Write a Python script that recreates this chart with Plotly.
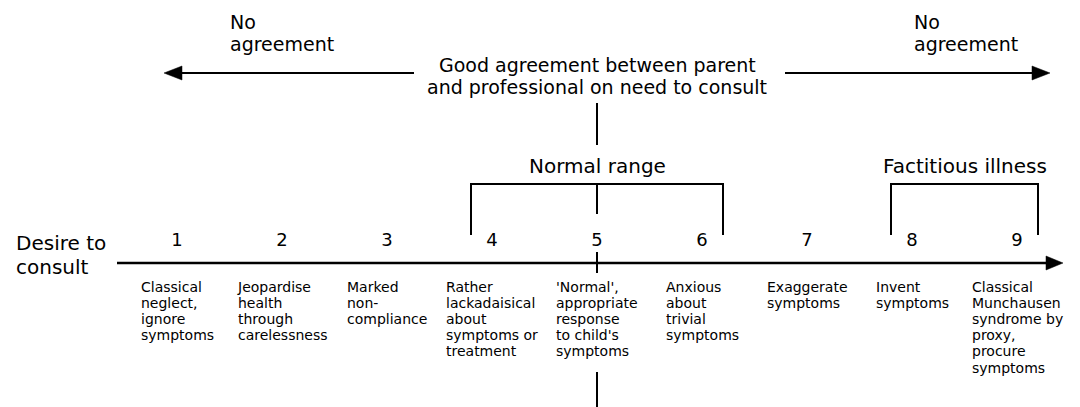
import plotly.graph_objects as go

# ---------------- data ----------------
scale_points = [1, 2, 3, 4, 5, 6, 7, 8, 9]
behaviours = [
    ["Classical", "neglect,", "ignore", "symptoms"],
    ["Jeopardise", "health", "through", "carelessness"],
    ["Marked", "non-", "compliance"],
    ["Rather", "lackadaisical", "about", "symptoms or", "treatment"],
    ["'Normal',", "appropriate", "response", "to child's", "symptoms"],
    ["Anxious", "about", "trivial", "symptoms"],
    ["Exaggerate", "symptoms"],
    ["Invent", "symptoms"],
    ["Classical", "Munchausen", "syndrome by", "proxy,", "procure", "symptoms"],
]
range_names = ["Normal range", "Factitious illness"]
range_starts = [4, 8]
range_ends = [6, 9]
agreement_point = 5
axis_title = ["Desire to", "consult"]
agreement_text = ["Good agreement between parent", "and professional on need to consult"]
no_agreement_text = ["No", "agreement"]

# ---------------- layout helpers (pixels -> scale units) ----------------
W, H = 1080, 407
PX_PER_STEP = 105.0
X1_PX = 177.0


def u(px):
    return 1 + (px - X1_PX) / PX_PER_STEP


FONT = "DejaVu Sans"
INK = "black"
HEAD_SIZE = 19
HEAD_GAP = 22.2
DESC_SIZE = 14
DESC_GAP = 16.1

fig = go.Figure()

# numbers on the scale
fig.add_trace(go.Scatter(
    x=scale_points, y=[241] * len(scale_points), mode="text",
    text=[str(p) for p in scale_points],
    textfont=dict(family=FONT, size=18, color=INK),
    hoverinfo="skip", showlegend=False))

shapes = []
annotations = []


def line(x0, y0, x1, y1, w=2):
    shapes.append(dict(type="line", xref="x", yref="y", x0=x0, y0=y0, x1=x1, y1=y1,
                       line=dict(color=INK, width=w)))


def head(xtip, y, direction, length_px, height_px):
    xb = xtip - direction * length_px / PX_PER_STEP
    path = f"M {xtip},{y} L {xb},{y - height_px / 2} L {xb},{y + height_px / 2} Z"
    shapes.append(dict(type="path", xref="x", yref="y", path=path,
                       fillcolor=INK, line=dict(color=INK, width=0.5)))


# main axis
AX_Y = 263
line(u(117), AX_Y, u(1050), AX_Y, 2.5)
head(u(1063), AX_Y, 1, 17, 14)

# top arrows
TOP_Y = 73
line(u(414), TOP_Y, u(178), TOP_Y, 2)
head(u(164), TOP_Y, -1, 18, 14)
line(u(785), TOP_Y, u(1036), TOP_Y, 2)
head(u(1050), TOP_Y, 1, 18, 14)

# vertical centre line (agreement point)
xa = agreement_point
line(xa, 103, xa, 145)
line(xa, 184, xa, 214)
line(xa, 252, xa, 273)
line(xa, 372, xa, 407)

# range brackets
PAD = 0.2
for name, s, e in zip(range_names, range_starts, range_ends):
    xl, xr = s - PAD, e + PAD
    line(xl, 184, xr, 184)
    line(xl, 183, xl, 235)
    line(xr, 183, xr, 235)
    annotations.append(dict(x=(xl + xr) / 2, y=166, xref="x", yref="y", text=name,
                            showarrow=False, xanchor="center", yanchor="middle",
                            font=dict(family=FONT, size=20, color=INK)))

# heading texts
for i, t in enumerate(agreement_text):
    annotations.append(dict(x=xa, y=65 + HEAD_GAP * i, xref="x", yref="y", text=t,
                            showarrow=False, xanchor="center", yanchor="middle",
                            font=dict(family=FONT, size=HEAD_SIZE, color=INK)))
for xpx in (228, 912):
    for i, t in enumerate(no_agreement_text):
        annotations.append(dict(x=u(xpx), y=22 + HEAD_GAP * i, xref="x", yref="y", text=t,
                                showarrow=False, xanchor="left", yanchor="middle",
                                font=dict(family=FONT, size=HEAD_SIZE, color=INK)))
for i, t in enumerate(axis_title):
    annotations.append(dict(x=u(14), y=243 + 24 * i, xref="x", yref="y", text=t,
                            showarrow=False, xanchor="left", yanchor="middle",
                            font=dict(family=FONT, size=20, color=INK)))

# behaviour descriptions (block centred under each point, lines left-aligned)
for p, lines in zip(scale_points, behaviours):
    txt = "<br>".join(f'<span style="font-size:{DESC_SIZE}px">{l}</span>' for l in lines)
    annotations.append(dict(x=p, y=277, xref="x", yref="y", text=txt,
                            showarrow=False, xanchor="center", yanchor="top", align="left",
                            font=dict(family=FONT, size=DESC_GAP / 1.3, color=INK)))

fig.update_layout(
    width=W, height=H, margin=dict(l=0, r=0, t=0, b=0),
    paper_bgcolor="white", plot_bgcolor="white",
    xaxis=dict(range=[u(0), u(W)], visible=False, fixedrange=True),
    yaxis=dict(range=[H, 0], visible=False, fixedrange=True),
    shapes=shapes, annotations=annotations, showlegend=False,
)

fig.write_html("out.html", config={"displayModeBar": False},
               post_script="document.body.style.margin='0';")
